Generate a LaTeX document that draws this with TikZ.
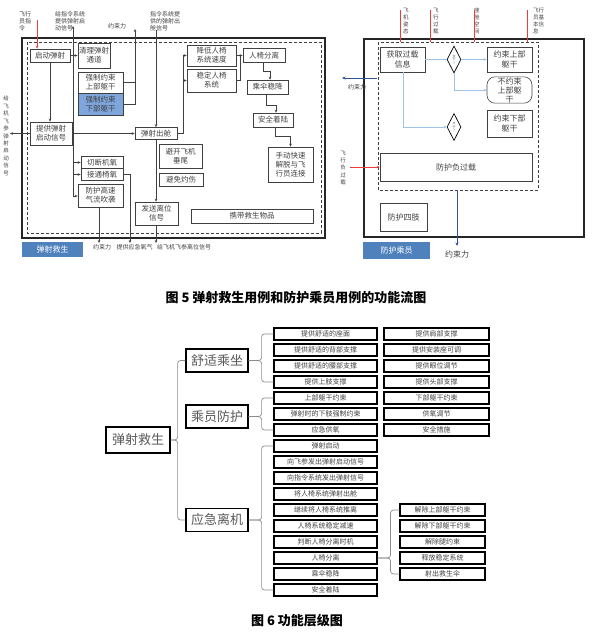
\documentclass[tikz,border=0pt]{standalone}
\usepackage{fontspec}
\setmainfont{Noto Sans CJK SC}
\usetikzlibrary{positioning, shapes.geometric, arrows.meta, calc}
\definecolor{efBlue}{HTML}{4F81BD}
\definecolor{efFillBlue}{HTML}{7EA6DC}
\definecolor{efLight}{HTML}{9DC3E6}
\definecolor{efDark}{HTML}{2F5597}
\definecolor{efRed}{HTML}{EE3B3B}
\definecolor{efInk}{HTML}{404040}
\definecolor{hrGrey}{HTML}{8C8C8C}
\tikzset{
    efBox/.style={
        rectangle,
        draw=efInk,
        line width=0.6pt,
        align=center,
        inner sep=0.5pt,
        text=efInk,
        font=\fontsize{7.5}{9}\selectfont
    },
    efRBox/.style={efBox, font=\fontsize{8}{9.5}\selectfont},
    efDiamond/.style={
        diamond, draw=black, line width=0.7pt, fill=white,
        minimum width=14pt, minimum height=27pt, inner sep=0pt,
        font=\fontsize{3}{3.5}\selectfont, text=efInk, align=center
    },
    efNote/.style={font=\fontsize{6}{7.2}\selectfont, text=efInk, inner sep=0pt, align=left},
    efTag/.style={fill=efBlue, text=white, font=\fontsize{8}{9}\selectfont, inner sep=0pt},
    % Frames
    efFrame/.style={draw=black!85, line width=1.1pt},
    efDash/.style={draw=black!75, line width=0.9pt, dash pattern=on 3pt off 2pt},
    % Arrows
    efLine/.style={draw=efInk, line width=0.6pt},
    efArr/.style={efLine, -{Stealth[length=3pt, width=2.6pt]}},
    efLightArr/.style={draw=efLight, line width=0.6pt, -{Stealth[length=3pt, width=2.6pt]}},
    efDarkArr/.style={draw=efDark, line width=0.9pt, -{Stealth[length=3.5pt, width=3pt]}},
    efRedArr/.style={draw=efRed, line width=0.8pt, -{Stealth[length=3pt, width=2.6pt]}},
    % Hierarchy
    hrLeaf/.style={draw=black, line width=1.1pt, minimum height=12pt, inner sep=0pt,
        text=efInk, font=\fontsize{7}{7.5}\selectfont},
    hrMid/.style={draw=black, line width=1.2pt, minimum width=62pt, minimum height=23pt,
        inner sep=0pt, text=black!65, font=\fontsize{13}{14}\selectfont},
    hrBrace/.style={draw=hrGrey, line width=0.7pt, rounded corners=3pt}
}

\begin{document}
\begin{tikzpicture}[x=1pt, y=-1pt]
\useasboundingbox (0,0) rectangle (593,636);

%% ---------- Fig. 5, left: ejection escape ----------
\draw[efFrame] (22,38) rectangle (325,238);
\draw[efDash] (27,42) rectangle (321,233);

\node[efBox, minimum width=40pt, minimum height=13pt] (qidong) at (50,55.5) {启动弹射};
\node[efBox, minimum width=32pt, minimum height=25pt] (qingli) at (94,55.5) {清理弹射\\通道};
\node[efBox, minimum width=45pt, minimum height=21pt] (shangqu) at (100.5,82.5) {强制约束\\上部躯干};
\node[efBox, fill=efFillBlue, minimum width=45pt, minimum height=22pt] (xiaqu) at (100.5,104) {强制约束\\下部躯干};
\node[efBox, minimum width=42pt, minimum height=23pt] (tigong) at (51,133.5) {提供弹射\\启动信号};
\node[efBox, minimum width=42pt, minimum height=12pt] (qieduan) at (102,162.5) {切断机氧};
\node[efBox, minimum width=42pt, minimum height=12pt] (jietong) at (102,174.5) {接通椅氧};
\node[efBox, minimum width=45pt, minimum height=23pt] (fanghu) at (100.5,195.5) {防护高速\\气流吹袭};
\node[efBox, minimum width=42pt, minimum height=12pt] (chucang) at (156,133.5) {弹射出舱};
\node[efBox, minimum width=49pt, minimum height=21pt] (jiangdi) at (211.5,55.5) {降低人椅\\系统速度};
\node[efBox, minimum width=49pt, minimum height=23pt] (wending) at (211.5,80.5) {稳定人椅\\系统};
\node[efBox, minimum width=42pt, minimum height=14pt] (fenli) at (264,55.5) {人椅分离};
\node[efBox, minimum width=41pt, minimum height=14pt] (wenjiang) at (267.5,87) {乘伞稳降};
\node[efBox, minimum width=40pt, minimum height=14pt] (zhuolu) at (273,120) {安全着陆};
\node[efBox, minimum width=45pt, minimum height=35pt] (shoudong) at (290.5,164.5) {手动快速\\解脱与飞\\行员连接};
\node[efBox, minimum width=43pt, minimum height=24pt] (bikai) at (180.5,156) {避开飞机\\垂尾};
\node[efBox, minimum width=44pt, minimum height=13pt] (bimian) at (181,179.5) {避免灼伤};
\node[efBox, minimum width=43pt, minimum height=23pt] (lixin) at (156.5,213.5) {发送离位\\信号};
\node[efBox, minimum width=122pt, minimum height=14pt] (xiedai) at (252,216) {携带救生物品};
\node[efTag, minimum width=61pt, minimum height=15pt] (tagEject) at (52.5,249.5) {弹射救生};

% outside labels
\node[efNote, anchor=north west] (pilotCmd) at (19,11) {飞行\\员指\\令};
\node[efNote, anchor=north west] (cmdStart) at (55,11) {给指令系统\\提供弹射启\\动信号};
\node[efNote] (forceUp) at (117,26) {约束力};
\node[efNote, anchor=north west] (cmdOut) at (150,11) {指令系统提\\供的弹射出\\舱信号};
\node[efNote, align=center, font=\fontsize{5.5}{7.45}\selectfont] (paramStart) at (6,136) {给\\飞\\机\\飞\\参\\弹\\射\\启\\动\\信\\号};
\node[efNote] (forceDown) at (102,247) {约束力};
\node[efNote] (oxyOut) at (134.5,247) {提供应急氧气};
\node[efNote, anchor=west] (paramLeave) at (157,247) {给飞机飞参离位信号};

\coordinate (pilotIn) at (37,20);
\coordinate (busTop) at (73,26);
\coordinate (busBot) at (73,196);
\coordinate (forceTop) at (135,29);
\coordinate (sigTop) at (156,30);
\coordinate (sigL) at (10,133.5);
\coordinate (bus2) at (183,100);
\coordinate (join1) at (240,100);
\coordinate (forceBot) at (99,243);
\coordinate (oxyBot) at (130,243);
\coordinate (leaveBot) at (156,243);

\draw[efRedArr] (pilotIn) -- (pilotIn |- qidong.north);
\draw[efArr] (busBot) -- (busTop);
\draw[efArr] (qidong.east) -- (qingli.west);
\draw[efArr] (busTop |- qieduan) -- (qieduan.west);
\draw[efArr] (busTop |- jietong) -- (jietong.west);
\draw[efArr] (busBot) -- (busBot -| fanghu.west);
\draw[efArr] (busTop |- chucang) -- (chucang.west);
\draw[efArr] (qidong.south) -- (qidong.south |- tigong.north);
\draw[efArr] (tigong.west) -- (sigL);
\draw[efLine] (shangqu.east) -- (shangqu.east -| forceTop);
\draw[efArr] (xiaqu.east) -| (forceTop);
\draw[efArr] (sigTop) -- (chucang.north);
\draw[efArr] (chucang.south) -- (chucang.south |- lixin.north);
\draw[efArr] (lixin.south -| leaveBot) -- (leaveBot);
\draw[efLine] (chucang.east) -| (bus2 |- jiangdi.west);
\draw[efArr] (bus2 |- jiangdi.west) -- (jiangdi.west);
\draw[efArr] (bus2 |- wending.west) -- (wending.west);
\draw[efLine] (wending.east) -| (join1 |- jiangdi.east);
\draw[efArr] (jiangdi.east) -- (fenli.west);
\draw[efArr] ([xshift=-1pt]fenli.south) -- ++(0,9) -| ([xshift=2.5pt]wenjiang.north);
\draw[efArr] ([xshift=-1pt]wenjiang.south) -- ++(0,11) -| ([xshift=3pt]zhuolu.north);
\draw[efArr] ([xshift=2pt]zhuolu.south) -- ++(0,9) -| (shoudong.north);
\draw[efArr] (fanghu.south -| forceBot) -- (forceBot);
\draw[efArr] (jietong.east) -| (oxyBot);

%% ---------- Fig. 5, right: occupant protection ----------
\draw[efFrame] (364,39) rectangle (584,237);
\draw[efDash] (378,42) rectangle (538,190);

\node[efRBox, minimum width=45pt, minimum height=25pt] (huoqu) at (402.5,59.5) {获取过载\\信息};
\node[efDiamond] (d1) at (454,59.5) {大\\于\\?};
\node[efDiamond] (d2) at (454,127) {大\\于\\?};
\node[efRBox, minimum width=45pt, minimum height=25pt] (yueshang) at (509.5,59.5) {约束上部\\躯干};
\node[efRBox, rounded corners=8pt, minimum width=45pt, minimum height=26pt, font=\fontsize{8}{9}\selectfont] (buyue) at (509.5,90) {不约束\\上部躯\\干};
\node[efRBox, minimum width=45pt, minimum height=27pt] (yuexia) at (509.5,123.5) {约束下部\\躯干};
\node[efRBox, minimum width=152pt, minimum height=28pt] (fuguozai) at (456,167) {防护负过载};
\node[efRBox, minimum width=47pt, minimum height=28pt] (sizhi) at (403.5,217) {防护四肢};
\node[efTag, minimum width=67pt, minimum height=17pt] (tagProtect) at (396.5,250.5) {防护乘员};

\node[efNote, anchor=north west, font=\fontsize{5.5}{7}\selectfont] (ziTai) at (403,8) {飞\\机\\姿\\态};
\node[efNote, anchor=north west, font=\fontsize{5.5}{7}\selectfont] (guoZai) at (433,8) {飞\\行\\过\\载};
\node[efNote, anchor=north west, font=\fontsize{5.5}{7}\selectfont] (kongJian) at (474,8) {座\\舱\\空\\间};
\node[efNote, anchor=north west, font=\fontsize{5.5}{7}\selectfont] (jiBen) at (533,8) {飞行\\员基\\本信\\息};
\node[efNote, align=center, font=\fontsize{5.5}{7.4}\selectfont] (fuLabel) at (343,168) {飞\\行\\负\\过\\载};
\node[efNote] (forceL) at (357,87) {约束力};
\node[efNote, font=\fontsize{8}{9}\selectfont] (forceB) at (457,254) {约束力};

\foreach \x/\n in {400/ziTai, 430/guoZai, 474/kongJian, 527/jiBen}{
    \coordinate (\n Top) at (\x,10);
    \coordinate (\n End) at (\x,42);
    \draw[draw=efRed, line width=1pt] (\n Top) -- (\n End);
}
\coordinate (fuIn) at (350,167);
\coordinate (leftStart) at (377,78);
\coordinate (leftEnd) at (342,78);
\coordinate (downStart) at (457,190);
\coordinate (downEnd) at (457,246);

\draw[draw=efLight, line width=0.6pt] (huoqu.east) -- (d1.west);
\draw[efLightArr] (d1.east) -- (yueshang.west);
\draw[efLightArr] (d1.south) |- (buyue.west);
\draw[efLightArr] ([xshift=0.5pt]huoqu.south) |- (d2.west);
\draw[efRedArr] (fuIn) -- (fuguozai.west);
\draw[efDarkArr] (leftStart) -- (leftEnd);
\draw[efDarkArr] (downStart) -- (downEnd);

\node[font=\fontsize{13}{15}\selectfont\bfseries] (cap5) at (296,298) {图 5\ 弹射救生用例和防护乘员用例的功能流图};

%% ---------- Fig. 6: function hierarchy ----------
\node[hrMid, minimum width=64pt, minimum height=26pt] (root) at (138,440) {弹射救生};
\node[hrMid] (shushi) at (217,360.5) {舒适乘坐};
\node[hrMid] (chengyuan) at (217,416.5) {乘员防护};
\node[hrMid] (yingji) at (217,520) {应急离机};

\foreach \t [count=\i] in {提供舒适的座面, 提供舒适的背部支撑, 提供舒适的腰部支撑, 提供上肢支撑,
    上部躯干约束, 弹射时的下肢强制约束, 应急供氧, 弹射启动, 向飞参发出弹射启动信号,
    向指令系统发出弹射信号, 将人椅系统弹射出舱, 继续将人椅系统推离, 人椅系统稳定减速,
    判断人椅分离时机, 人椅分离, 乘伞稳降, 安全着陆}
    \node[hrLeaf, minimum width=103pt] (a\i) at (325.5,318+16*\i) {\t};
\foreach \t [count=\i] in {提供肩部支撑, 提供安装座可调, 提供眼位调节, 提供头部支撑,
    下部躯干约束, 供氧调节, 安全措施}
    \node[hrLeaf, minimum width=105pt] (b\i) at (436.5,318+16*\i) {\t};
\foreach \t [count=\i from 12] in {解除上部躯干约束, 解除下部躯干约束, 解除腿约束,
    释放稳定系统, 射出救生伞}
    \node[hrLeaf, minimum width=85pt] (c\i) at (442.5,318+16*\i) {\t};

\draw[hrBrace] (shushi.west) -| ($(root.east)+(7,0)$) -- (root.east);
\draw[hrBrace] (yingji.west) -| ($(root.east)+(7,0)$) -- (root.east);
\draw[hrBrace] (a1.west) -| ($(shushi.east)+(13,0)$) -- (shushi.east);
\draw[hrBrace] (a4.west) -| ($(shushi.east)+(13,0)$) -- (shushi.east);
\draw[hrBrace] (a5.west) -| ($(chengyuan.east)+(13,0)$) -- (chengyuan.east);
\draw[hrBrace] (a7.west) -| ($(chengyuan.east)+(13,0)$) -- (chengyuan.east);
\draw[hrBrace] (a8.west) -| ($(yingji.east)+(13,0)$) -- (yingji.east);
\draw[hrBrace] (a17.west) -| ($(yingji.east)+(13,0)$) -- (yingji.east);
\draw[hrBrace] (c12.west) -| ($(a15.east)+(13,0)$) -- (a15.east);
\draw[hrBrace] (c16.west) -| ($(a15.east)+(13,0)$) -- (a15.east);

\node[font=\fontsize{13}{15}\selectfont\bfseries] (cap6) at (297,621) {图 6\ 功能层级图};
\end{tikzpicture}
\end{document}
